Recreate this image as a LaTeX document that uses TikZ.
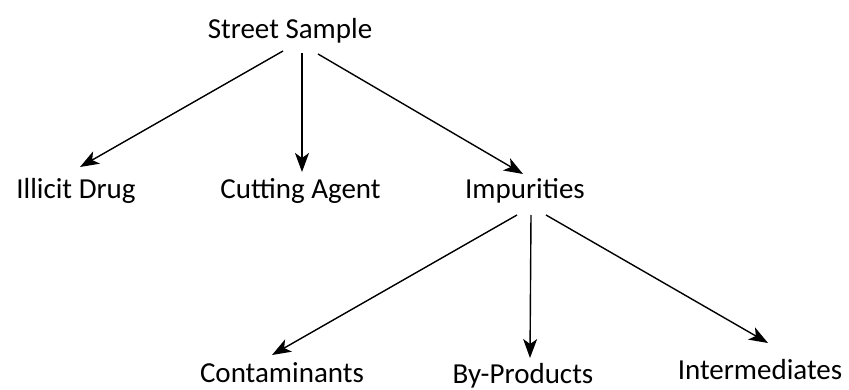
\documentclass[tikz,border=0pt]{standalone}
\usepackage{fontspec}
\setmainfont{Carlito}
\usetikzlibrary{arrows.meta,calc}
\begin{document}
\begin{tikzpicture}[x=1pt,y=-1pt,
  lbl/.style={anchor=base,inner sep=0pt,font=\fontsize{29}{34}\selectfont},
  conn/.style={line width=1.4pt,-{Stealth[length=19pt,width=14pt,inset=5pt]}}]
\useasboundingbox (0,0) rectangle (849,390);
\node[lbl] (ss) at (290,39) {Street Sample};
\node[lbl] (id) at (76,199) {Illicit Drug};
\node[lbl] (ca) at (300.5,199) {Cutting Agent};
\node[lbl] (im) at (525,199) {Impurities};
\node[lbl] (co) at (282,382) {Contaminants};
\node[lbl] (bp) at (523,383) {By-Products};
\node[lbl] (in) at (760,379) {Intermediates};
\draw[conn] ($(ss.base)+(-7,12)$) -- ($(id.base)+(4,-32)$);
\draw[conn] ($(ss.base)+(12,14)$) -- ($(ca.base)+(1.5,-27)$);
\draw[conn] ($(ss.base)+(28,15)$) -- ($(im.base)+(-2,-25)$);
\draw[conn] ($(im.base)+(-8,16)$) -- ($(co.base)+(-10,-27)$);
\draw[conn] ($(im.base)+(6,16)$) -- ($(bp.base)+(7,-25)$);
\draw[conn] ($(im.base)+(21,16)$) -- ($(in.base)+(8,-36)$);
\end{tikzpicture}
\end{document}
